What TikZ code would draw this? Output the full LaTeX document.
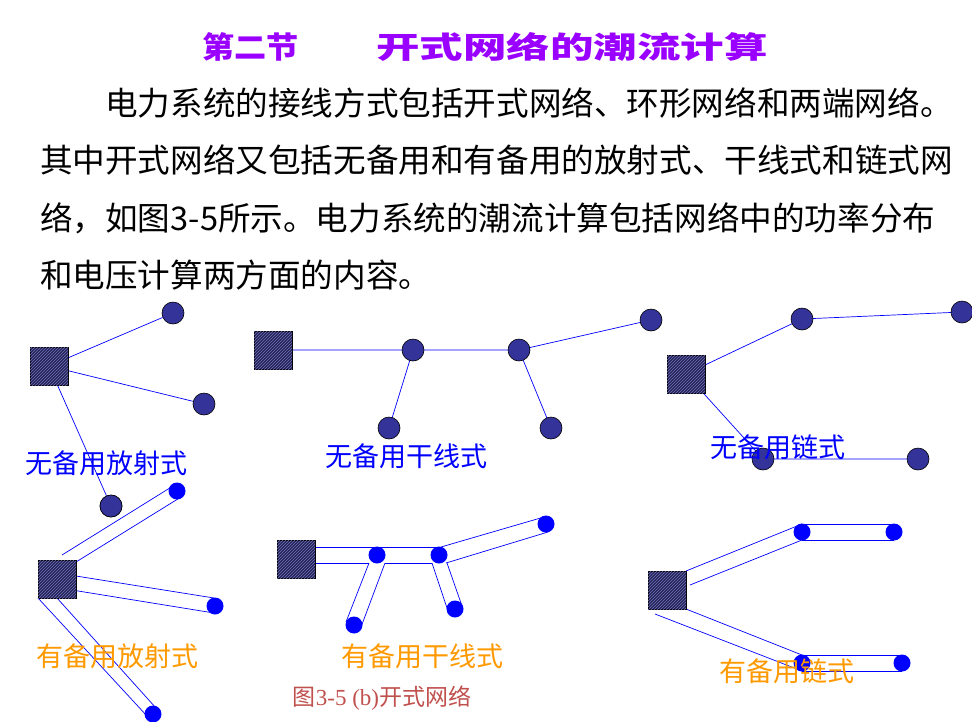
\documentclass[tikz,border=0pt]{standalone}
\usepackage{fontspec}
\usepackage{graphicx}
\usetikzlibrary{patterns}
\newfontfamily\cjk{Noto Sans CJK SC}
\newfontfamily\cjkcap{Liberation Serif}
\definecolor{ttl}{HTML}{9900FF}
\definecolor{navy}{HTML}{333399}
\definecolor{sq}{HTML}{24245A}
\definecolor{orng}{HTML}{FF9900}
\definecolor{capc}{HTML}{C0504D}
\tikzset{
  sqbox/.style={draw=black,line width=0.8pt,minimum size=38pt,inner sep=0pt,fill=sq,
    postaction={pattern=north east lines,pattern color=navy!70!white}},
  dnode/.style={circle,draw=black,line width=0.6pt,fill=navy,minimum size=22pt,inner sep=0pt},
  bnode/.style={circle,fill=blue,minimum size=17pt,inner sep=0pt},
  bl/.style={draw=blue,line width=0.7pt},
  bodytxt/.style={anchor=west,inner sep=0pt,font=\cjk\fontsize{32.6}{36}\selectfont},
  lab/.style={inner sep=0pt,font=\cjk\fontsize{27}{30}\selectfont},
}
\begin{document}
\begin{tikzpicture}[x=1pt,y=-1pt]
\useasboundingbox (0,0) rectangle (972,721);
% title
\node[inner sep=0pt,anchor=west,text=ttl] (t1) at (202,47) {\cjk\bfseries\fontsize{30}{34}\selectfont\scalebox{1.07}[1]{第二节}};
\node[inner sep=0pt,anchor=west,text=ttl] (t2) at (376,47) {\cjk\bfseries\fontsize{30}{34}\selectfont\scalebox{1.45}[1]{开式网络的潮流计算}};
% body
\node[bodytxt] (p1) at (105,103) {电力系统的接线方式包括开式网络、环形网络和两端网络。};
\node[bodytxt] (p2) at (40,160) {其中开式网络又包括无备用和有备用的放射式、干线式和链式网};
\node[bodytxt] (p3) at (40,218) {络，如图3-5所示。电力系统的潮流计算包括网络中的功率分布};
\node[bodytxt] (p4) at (40,275) {和电压计算两方面的内容。};
% D1
\coordinate (a0) at (49,366);
\node[dnode] (a1) at (173,313) {};
\node[dnode] (a2) at (204,404) {};
\node[dnode] (a3) at (111,506) {};
\draw[bl] (a0) -- (a1); \draw[bl] (a0) -- (a2); \draw[bl] (a0) -- (a3);
\node[sqbox] (A) at (a0) {};
\node[dnode] (a3b) at (a3) {};
\node[lab,text=blue] (la) at (106,463) {无备用放射式};
% D2
\coordinate (b0) at (273,350);
\coordinate (b1) at (413,350);
\coordinate (b2) at (519,350);
\coordinate (b3) at (651,320);
\coordinate (b4) at (389,428);
\coordinate (b5) at (551,428);
\draw[bl] (b0) -- (b1) -- (b2) -- (b3); \draw[bl] (b1) -- (b4); \draw[bl] (b2) -- (b5);
\node[sqbox] (B) at (b0) {};
\node[dnode] (B1) at (b1) {};
\node[dnode] (B2) at (b2) {};
\node[dnode] (B3) at (b3) {};
\node[dnode] (B4) at (b4) {};
\node[dnode] (B5) at (b5) {};
\node[lab,text=blue] (lb) at (406,456) {无备用干线式};
% D3
\coordinate (c0) at (686,374);
\coordinate (c1) at (802,319);
\coordinate (c2) at (962,312);
\coordinate (c3) at (763,459);
\coordinate (c4) at (918,459);
\draw[bl] (c0) -- (c1) -- (c2); \draw[bl] (c0) -- (c3) -- (c4);
\node[sqbox] (C) at (c0) {};
\node[dnode] (C1) at (c1) {};
\node[dnode] (C2) at (c2) {};
\node[dnode] (C3) at (c3) {};
\node[dnode] (C4) at (c4) {};
\node[lab,text=blue] (lc) at (778,447) {无备用链式};
% D4
\coordinate (d1a) at (62,555); \coordinate (d1b) at (76,562);
\coordinate (d2a) at (76,576); \coordinate (d2b) at (72,590);
\coordinate (d3a) at (38,598); \coordinate (d3b) at (57,598);
\coordinate (d1p) at (173,486); \coordinate (d1q) at (181,497);
\coordinate (d2p) at (214,598); \coordinate (d2q) at (214,613);
\coordinate (d3p) at (147,716); \coordinate (d3q) at (156,708);
\draw[bl] (d1a) -- (d1p); \draw[bl] (d1b) -- (d1q);
\draw[bl] (d2a) -- (d2p); \draw[bl] (d2b) -- (d2q);
\draw[bl] (d3a) -- (d3p); \draw[bl] (d3b) -- (d3q);
\node[sqbox] (D) at (57,579) {};
\node[bnode] (d1) at (177,491) {};
\node[bnode] (d2) at (215,606) {};
\node[bnode] (d3) at (153,714) {};
\node[lab,text=orng] (ld) at (117,656) {有备用放射式};
% D5
\coordinate (e0a) at (315,547); \coordinate (e0b) at (315,563);
\coordinate (e2a) at (439,547);
\coordinate (e1l) at (369,563); \coordinate (e1r) at (385,563);
\coordinate (e2l) at (432,563); \coordinate (e2r) at (447,563);
\coordinate (e2u) at (441,547); \coordinate (e2d) at (446,563);
\coordinate (e3u) at (544,517); \coordinate (e3d) at (548,532);
\coordinate (e4l) at (346,622); \coordinate (e4r) at (361,627);
\coordinate (e5l) at (448,611); \coordinate (e5r) at (462,606);
\draw[bl] (e0a) -- (e2a); \draw[bl] (e0b) -- (e1l); \draw[bl] (e1r) -- (e2l);
\draw[bl] (e2u) -- (e3u); \draw[bl] (e2d) -- (e3d);
\draw[bl] (e1l) -- (e4l); \draw[bl] (e1r) -- (e4r);
\draw[bl] (e2l) -- (e5l); \draw[bl] (e2r) -- (e5r);
\node[sqbox] (E) at (296,559) {};
\node[bnode] (e1) at (377,555) {};
\node[bnode] (e2) at (439,555) {};
\node[bnode] (e3) at (546,524) {};
\node[bnode] (e4) at (354,625) {};
\node[bnode] (e5) at (455,609) {};
\node[lab,text=orng] (le) at (422,656) {有备用干线式};
% D6
\coordinate (f1u) at (802,524); \coordinate (f1d) at (802,540);
\coordinate (f2u) at (894,524); \coordinate (f2d) at (894,540);
\coordinate (f3u) at (802,655); \coordinate (f3d) at (802,671);
\coordinate (f4u) at (902,655); \coordinate (f4d) at (902,671);
\coordinate (fa) at (686,571); \coordinate (fb) at (690,585);
\coordinate (fc) at (686,609); \coordinate (fd) at (655,614);
\draw[bl] (f1u) -- (f2u); \draw[bl] (f1d) -- (f2d);
\draw[bl] (f3u) -- (f4u); \draw[bl] (f3d) -- (f4d);
\draw[bl] (fa) -- (f1u); \draw[bl] (fb) -- (f1d);
\draw[bl] (fc) -- (f3u); \draw[bl] (fd) -- (f3d);
\node[sqbox] (F) at (667,590) {};
\node[bnode] (f1) at (802,532) {};
\node[bnode] (f2) at (894,532) {};
\node[bnode] (f3) at (802,663) {};
\node[bnode] (f4) at (902,663) {};
\node[lab,text=orng] (lf) at (787,671) {有备用链式};
% caption
\node[inner sep=0pt,text=capc] (cap) at (382,698) {\fontsize{23}{26}\selectfont\cjk 图\cjkcap 3-5 (b)\cjk 开式网络};
\end{tikzpicture}
\end{document}
